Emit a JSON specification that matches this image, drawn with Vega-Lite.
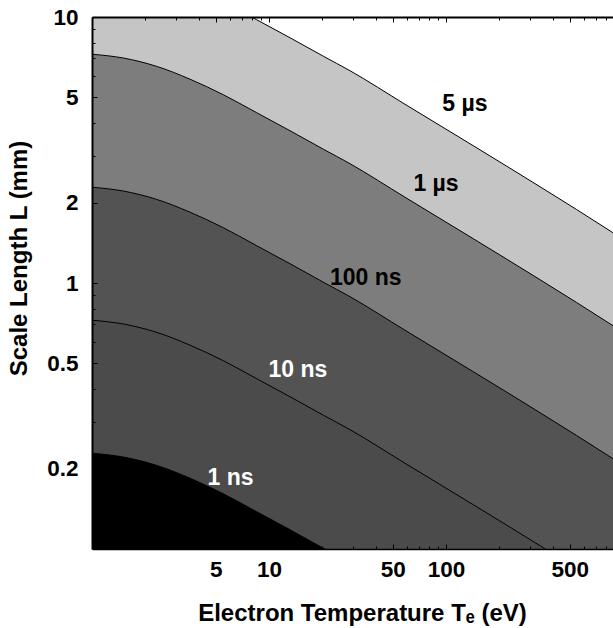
{
  "$schema": "https://vega.github.io/schema/vega-lite/v6.json",
  "autosize": "none",
  "padding": {"left": 92, "top": 17, "right": 0, "bottom": 79},
  "width": 521,
  "height": 532,
  "background": "white",
  "view": {"stroke": null},
  "config": {"font": "Liberation Sans"},
  "datasets": {
    "curves": [
      {"tau": "5 µs", "T": 1, "L": 16.20}, {"tau": "5 µs", "T": 1.502, "L": 15.68}, {"tau": "5 µs", "T": 2.321, "L": 14.58}, {"tau": "5 µs", "T": 3.578, "L": 13.05}, {"tau": "5 µs", "T": 5.518, "L": 11.41}, {"tau": "5 µs", "T": 8.522, "L": 9.765}, {"tau": "5 µs", "T": 13.14, "L": 8.356}, {"tau": "5 µs", "T": 20.27, "L": 7.122}, {"tau": "5 µs", "T": 28.69, "L": 6.281}, {"tau": "5 µs", "T": 58.67, "L": 4.698}, {"tau": "5 µs", "T": 142.7, "L": 3.280}, {"tau": "5 µs", "T": 339.8, "L": 2.301}, {"tau": "5 µs", "T": 878, "L": 1.545}, {"tau": "5 µs", "T": 1000, "L": 1.460},
      {"tau": "1 µs", "T": 1, "L": 7.246}, {"tau": "1 µs", "T": 1.502, "L": 7.012}, {"tau": "1 µs", "T": 2.321, "L": 6.522}, {"tau": "1 µs", "T": 3.578, "L": 5.838}, {"tau": "1 µs", "T": 5.518, "L": 5.104}, {"tau": "1 µs", "T": 8.522, "L": 4.367}, {"tau": "1 µs", "T": 13.14, "L": 3.737}, {"tau": "1 µs", "T": 20.27, "L": 3.185}, {"tau": "1 µs", "T": 28.69, "L": 2.809}, {"tau": "1 µs", "T": 58.67, "L": 2.101}, {"tau": "1 µs", "T": 142.7, "L": 1.467}, {"tau": "1 µs", "T": 339.8, "L": 1.029}, {"tau": "1 µs", "T": 878, "L": 0.691}, {"tau": "1 µs", "T": 1000, "L": 0.653},
      {"tau": "100 ns", "T": 1, "L": 2.291}, {"tau": "100 ns", "T": 1.502, "L": 2.217}, {"tau": "100 ns", "T": 2.321, "L": 2.062}, {"tau": "100 ns", "T": 3.578, "L": 1.846}, {"tau": "100 ns", "T": 5.518, "L": 1.614}, {"tau": "100 ns", "T": 8.522, "L": 1.381}, {"tau": "100 ns", "T": 13.14, "L": 1.182}, {"tau": "100 ns", "T": 20.27, "L": 1.007}, {"tau": "100 ns", "T": 28.69, "L": 0.8883}, {"tau": "100 ns", "T": 58.67, "L": 0.6644}, {"tau": "100 ns", "T": 142.7, "L": 0.4639}, {"tau": "100 ns", "T": 339.8, "L": 0.3254}, {"tau": "100 ns", "T": 878, "L": 0.2185}, {"tau": "100 ns", "T": 1000, "L": 0.2065},
      {"tau": "10 ns", "T": 1, "L": 0.7246}, {"tau": "10 ns", "T": 1.502, "L": 0.7012}, {"tau": "10 ns", "T": 2.321, "L": 0.6522}, {"tau": "10 ns", "T": 3.578, "L": 0.5838}, {"tau": "10 ns", "T": 5.518, "L": 0.5104}, {"tau": "10 ns", "T": 8.522, "L": 0.4367}, {"tau": "10 ns", "T": 13.14, "L": 0.3737}, {"tau": "10 ns", "T": 20.27, "L": 0.3185}, {"tau": "10 ns", "T": 28.69, "L": 0.2809}, {"tau": "10 ns", "T": 58.67, "L": 0.2101}, {"tau": "10 ns", "T": 142.7, "L": 0.1467}, {"tau": "10 ns", "T": 339.8, "L": 0.1029}, {"tau": "10 ns", "T": 878, "L": 0.0691}, {"tau": "10 ns", "T": 1000, "L": 0.0653},
      {"tau": "1 ns", "T": 1, "L": 0.2291}, {"tau": "1 ns", "T": 1.502, "L": 0.2217}, {"tau": "1 ns", "T": 2.321, "L": 0.2062}, {"tau": "1 ns", "T": 3.578, "L": 0.1846}, {"tau": "1 ns", "T": 5.518, "L": 0.1614}, {"tau": "1 ns", "T": 8.522, "L": 0.1381}, {"tau": "1 ns", "T": 13.14, "L": 0.1182}, {"tau": "1 ns", "T": 20.27, "L": 0.1007}, {"tau": "1 ns", "T": 28.69, "L": 0.08883}, {"tau": "1 ns", "T": 58.67, "L": 0.06644}, {"tau": "1 ns", "T": 142.7, "L": 0.04639}, {"tau": "1 ns", "T": 339.8, "L": 0.03254}, {"tau": "1 ns", "T": 878, "L": 0.02185}, {"tau": "1 ns", "T": 1000, "L": 0.02065}
    ],
    "labels": [
      {"label": "5 µs", "T": 128.0, "L": 4.417},
      {"label": "1 µs", "T": 87.8, "L": 2.210},
      {"label": "100 ns", "T": 35.24, "L": 0.9795},
      {"label": "10 ns", "T": 14.58, "L": 0.4432},
      {"label": "1 ns", "T": 6.061, "L": 0.1745}
    ]
  },
  "resolve": {"axis": {"x": "independent", "y": "independent"}},
  "layer": [
    {
      "data": {"name": "curves"},
      "transform": [{"filter": "datum.tau == '5 µs'"}],
      "mark": {"type": "area", "clip": true, "interpolate": "monotone", "color": "#c5c5c5", "opacity": 1},
      "encoding": {
        "x": {"field": "T", "type": "quantitative", "scale": {"type": "log", "domain": [1, 878], "nice": false},
          "axis": {
            "orient": "bottom", "zindex": 2, "grid": false,
            "values": [5, 10, 50, 100, 500],
            "labelExpr": "'' + datum.value",
            "tickSize": -5, "tickColor": "black", "tickWidth": 1,
            "domainColor": "black", "domainWidth": 1.5,
            "labelFont": "Liberation Sans", "labelFontWeight": "bold", "labelFontSize": 22.5, "labelColor": "black",
            "labelBaseline": "alphabetic", "labelPadding": 32, "labelFlush": false, "labelOverlap": false,
            "title": "Electron Temperature Tₑ (eV)",
            "titleFont": "Liberation Sans", "titleFontWeight": "bold", "titleFontSize": 24, "titleColor": "black",
            "titleBaseline": "alphabetic", "titleY": 71, "titleX": 270, "titleAlign": "center"
          }},
        "y": {"field": "L", "type": "quantitative", "scale": {"type": "log", "domain": [0.1, 10], "nice": false},
          "axis": {
            "orient": "left", "zindex": 2, "grid": false,
            "values": [0.2, 0.5, 1, 2, 5, 10],
            "labelExpr": "'' + datum.value",
            "tickSize": -5, "tickColor": "black", "tickWidth": 1,
            "domainColor": "black", "domainWidth": 2,
            "labelFont": "Liberation Sans", "labelFontWeight": "bold", "labelFontSize": 22.5, "labelColor": "black",
            "labelPadding": 19, "labelFlush": false, "labelOverlap": false,
            "title": "Scale Length L (mm)",
            "titleFont": "Liberation Sans", "titleFontWeight": "bold", "titleFontSize": 24, "titleColor": "black",
            "titleX": -61, "titleY": 241
          }},
        "y2": {"datum": 0.1}
      }
    },
    {
      "data": {"name": "curves"},
      "transform": [{"filter": "datum.tau == '1 µs'"}],
      "mark": {"type": "area", "clip": true, "interpolate": "monotone", "color": "#7d7d7d", "opacity": 1},
      "encoding": {
        "x": {"field": "T", "type": "quantitative",
          "axis": {
            "orient": "top", "zindex": 2, "grid": false, "labels": false, "title": null,
            "values": [5, 10, 50, 100, 500],
            "tickSize": -5, "tickColor": "black", "tickWidth": 1,
            "domainColor": "black", "domainWidth": 2
          }},
        "y": {"field": "L", "type": "quantitative",
          "axis": {
            "orient": "left", "zindex": 2, "grid": false, "labels": false, "title": null, "domain": false,
            "values": [0.3, 0.4, 0.6, 0.7, 0.8, 0.9, 3, 4, 6, 7, 8, 9],
            "tickSize": -3, "tickColor": "black", "tickWidth": 1
          }},
        "y2": {"datum": 0.1}
      }
    },
    {
      "data": {"name": "curves"},
      "transform": [{"filter": "datum.tau == '100 ns'"}],
      "mark": {"type": "area", "clip": true, "interpolate": "monotone", "color": "#535353", "opacity": 1},
      "encoding": {
        "x": {"field": "T", "type": "quantitative",
          "axis": {
            "orient": "bottom", "zindex": 2, "grid": false, "labels": false, "title": null, "domain": false,
            "values": [2, 3, 4, 6, 7, 8, 9, 20, 30, 40, 60, 70, 80, 90, 200, 300, 400, 600, 700, 800],
            "tickSize": -3, "tickColor": "black", "tickWidth": 1
          }},
        "y": {"field": "L", "type": "quantitative", "axis": null},
        "y2": {"datum": 0.1}
      }
    },
    {
      "data": {"name": "curves"},
      "transform": [{"filter": "datum.tau == '10 ns'"}],
      "mark": {"type": "area", "clip": true, "interpolate": "monotone", "color": "#4b4b4b", "opacity": 1},
      "encoding": {
        "x": {"field": "T", "type": "quantitative",
          "axis": {
            "orient": "top", "zindex": 2, "grid": false, "labels": false, "title": null, "domain": false,
            "values": [2, 3, 4, 6, 7, 8, 9, 20, 30, 40, 60, 70, 80, 90, 200, 300, 400, 600, 700, 800],
            "tickSize": -3, "tickColor": "black", "tickWidth": 1
          }},
        "y": {"field": "L", "type": "quantitative", "axis": null},
        "y2": {"datum": 0.1}
      }
    },
    {
      "data": {"name": "curves"},
      "transform": [{"filter": "datum.tau == '1 ns'"}],
      "mark": {"type": "area", "clip": true, "interpolate": "monotone", "color": "#000000", "opacity": 1},
      "encoding": {
        "x": {"field": "T", "type": "quantitative", "axis": null},
        "y": {"field": "L", "type": "quantitative", "axis": null},
        "y2": {"datum": 0.1}
      }
    },
    {
      "data": {"name": "curves"},
      "mark": {"type": "line", "clip": true, "interpolate": "monotone", "color": "#000000", "strokeWidth": 1},
      "encoding": {
        "x": {"field": "T", "type": "quantitative", "axis": null},
        "y": {"field": "L", "type": "quantitative", "axis": null},
        "detail": {"field": "tau"}
      }
    },
    {
      "data": {"name": "labels"},
      "mark": {"type": "text", "font": "Liberation Sans", "fontWeight": "bold", "fontSize": 23, "align": "center", "baseline": "alphabetic"},
      "encoding": {
        "x": {"field": "T", "type": "quantitative", "axis": null},
        "y": {"field": "L", "type": "quantitative", "axis": null},
        "text": {"field": "label"},
        "color": {"field": "label", "type": "nominal", "legend": null,
          "scale": {"domain": ["5 µs", "1 µs", "100 ns", "10 ns", "1 ns"], "range": ["#000000", "#000000", "#000000", "#ffffff", "#ffffff"]}}
      }
    }
  ]
}
